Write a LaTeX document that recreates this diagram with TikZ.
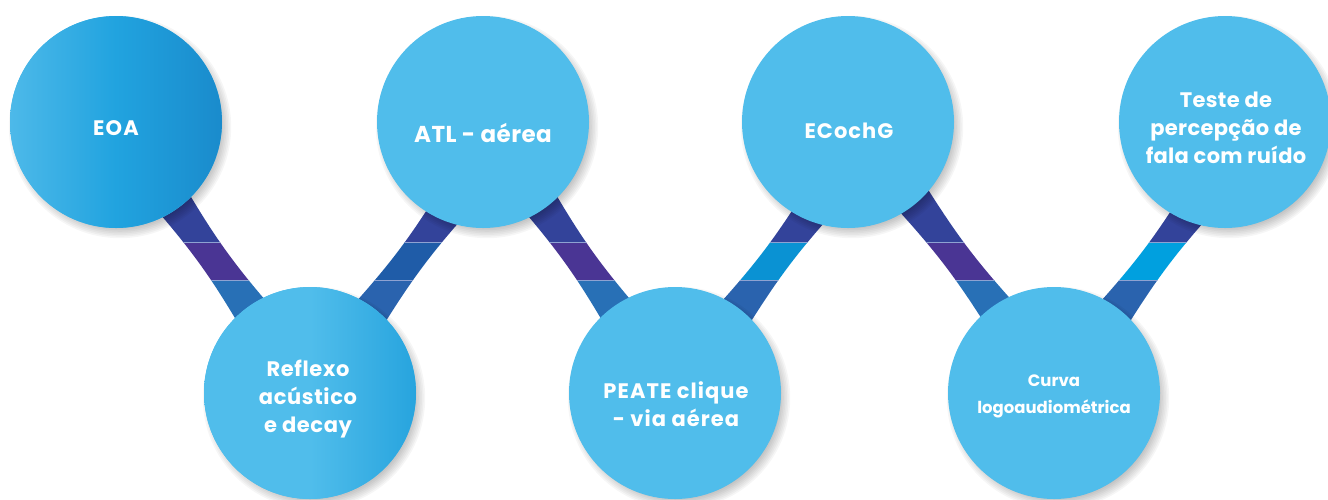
\documentclass[tikz,border=0pt]{standalone}
\usepackage{fontspec}
\setmainfont{Poppins}
\usetikzlibrary{calc}
\definecolor{circ}{HTML}{50BDEB}
\definecolor{eoaL}{HTML}{4DB9E9}
\definecolor{eoaM}{HTML}{21A3DF}
\definecolor{eoaR}{HTML}{1A8BCC}
\definecolor{refR}{HTML}{27A4DE}
\definecolor{bandtop}{HTML}{33439A}
\definecolor{bandpurple}{HTML}{4A3594}
\definecolor{bandblue}{HTML}{2870B6}
\definecolor{bandmidB}{HTML}{1F5CA8}
\definecolor{bandlowB}{HTML}{2A63AE}
\definecolor{bandcyanA}{HTML}{0A92D3}
\definecolor{bandcyanB}{HTML}{00A0DF}
\definecolor{stripeline}{HTML}{8EA2D2}
\pgfdeclarelayer{bandlayer}
\pgfdeclarelayer{shadowlayer}
\pgfsetlayers{bandlayer,shadowlayer,main}
\tikzset{
  bubble/.style={circle, minimum size=212pt, inner sep=0pt, fill=circ},
  eoagrad/.style={left color=eoaL, right color=eoaR, middle color=eoaM},
  refgrad/.style={left color=circ, right color=refR, middle color=circ},
  lbl/.style={text=white, align=center, font=\fontsize{21}{28}\selectfont\bfseries\addfontfeature{LetterSpace=3}, inner sep=0pt},
  sline/.style={stripeline, line width=0.8pt}
}
\newcommand\drawband[5]{%
  \begin{scope}
    \clip ($(#1)!28pt!90:(#2)$) .. controls ($($(#1)!0.5!(#2)$)!10pt!90:(#2)$) .. ($(#2)!28pt!-90:(#1)$)
      -- ($(#2)!28pt!90:(#1)$) .. controls ($($(#1)!0.5!(#2)$)!10pt!-90:(#2)$) .. ($(#1)!28pt!-90:(#2)$) -- cycle;
    \fill[#3] (0,0) rectangle (1328,242);
    \fill[#4] (0,242) rectangle (1328,280);
    \fill[#5] (0,280) rectangle (1328,499);
    \draw[sline] (0,242) -- (1328,242);
    \draw[sline] (0,280) -- (1328,280);
  \end{scope}}
\newcommand\bubshadow[1]{%
  \foreach \k in {0,...,7}{\fill[black, opacity=0.035] ($(#1.center)+(4,5)$) circle ({(100+1.6*\k)*1pt});}}
\begin{document}
\begin{tikzpicture}[x=1pt,y=-1pt]
\useasboundingbox (0,0) rectangle (1328,499);
% circles
\node[bubble, eoagrad] (eoa) at (116,122) {};
\node[bubble, refgrad] (ref) at (310,393) {};
\node[bubble] (atl) at (483,122) {};
\node[bubble] (peate) at (675,393) {};
\node[bubble] (ecg) at (848,122) {};
\node[bubble] (curva) at (1054,393) {};
\node[bubble] (teste) at (1225,122) {};
% texts
\node[lbl, font=\fontsize{21}{28}\selectfont\bfseries\addfontfeature{LetterSpace=6}] (eoaT) at (116,128) {EOA};
\node[lbl, font=\fontsize{23}{28}\selectfont\bfseries\addfontfeature{LetterSpace=2}] (atlT) at (483,133) {ATL - aérea};
\node[lbl, font=\fontsize{21}{28}\selectfont\bfseries\addfontfeature{LetterSpace=5}] (ecgT) at (849,131) {ECochG};
\node[lbl] (refT) at (308,399) {Reflexo\\acústico\\e decay};
\node[lbl, font=\fontsize{21}{28}\selectfont\bfseries\addfontfeature{LetterSpace=5}] (peateT) at (676,404) {PEATE clique\\- via aérea};
\node[lbl, font=\fontsize{16.5}{27}\selectfont\bfseries] (curvaT) at (1054,396) {Curva\\logoaudiométrica};
\node[lbl, font=\fontsize{21}{28}\selectfont\bfseries\addfontfeature{LetterSpace=1.5}] (testeT) at (1226,128) {Teste de\\percepção de\\fala com ruído};
% anchor points of the bands
\coordinate (atlR) at ($(atl.center)+(30,0)$);
\coordinate (ecgR) at ($(ecg.center)+(31,0)$);
\coordinate (ecgS) at ($(ecg.center)+(6,0)$);
\coordinate (curvaS) at ($(curva.center)+(6,0)$);
\coordinate (testeR) at ($(teste.center)+(33,0)$);
\begin{pgfonlayer}{bandlayer}
  \drawband{eoa.center}{ref.center}{bandtop}{bandpurple}{bandblue}
  \drawband{atlR}{ref.center}{bandtop}{bandmidB}{bandlowB}
  \drawband{atl.center}{peate.center}{bandtop}{bandpurple}{bandblue}
  \drawband{ecgR}{peate.center}{bandtop}{bandcyanA}{bandlowB}
  \drawband{ecgS}{curvaS}{bandtop}{bandpurple}{bandblue}
  \drawband{testeR}{curva.center}{bandtop}{bandcyanB}{bandlowB}
\end{pgfonlayer}
\begin{pgfonlayer}{shadowlayer}
  \bubshadow{eoa}\bubshadow{ref}\bubshadow{atl}\bubshadow{peate}
  \bubshadow{ecg}\bubshadow{curva}\bubshadow{teste}
\end{pgfonlayer}
\end{tikzpicture}
\end{document}
